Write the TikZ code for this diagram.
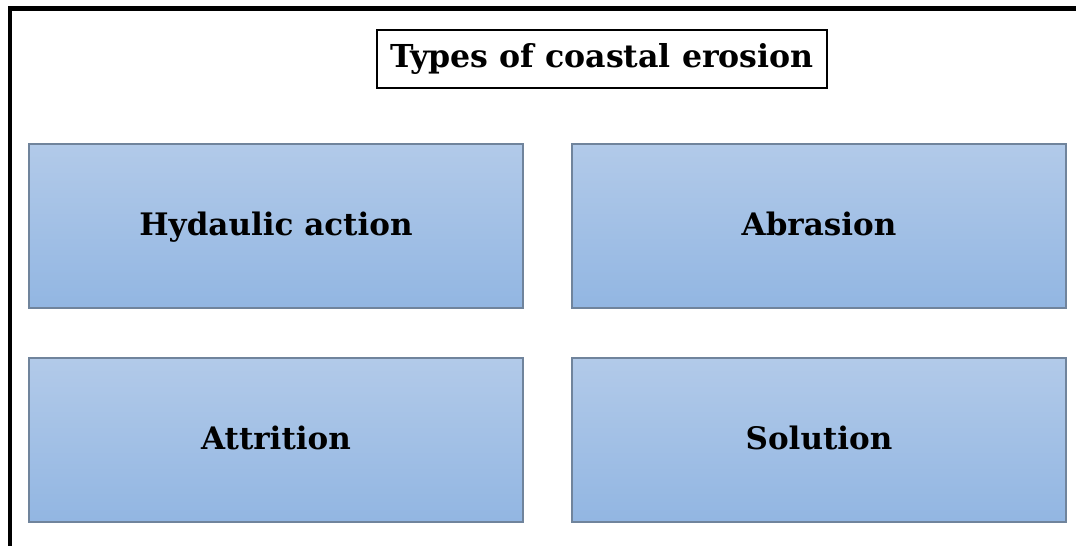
\documentclass[tikz,border=0pt]{standalone}
\usepackage{fontspec}
\setmainfont{DejaVu Serif}
\definecolor{boxtop}{RGB}{178,202,233}
\definecolor{boxbot}{RGB}{146,182,226}
\definecolor{boxline}{RGB}{112,132,156}
\begin{document}
\begin{tikzpicture}[x=1pt,y=-1pt]
	\tikzstyle{rec}=[minimum width=494pt,minimum height=164pt,rectangle,draw=boxline,line width=1.2pt,top color=boxtop,bottom color=boxbot,font=\fontsize{31}{31}\selectfont\bfseries,inner sep=0pt,text height=23pt,text depth=4pt]
	\tikzstyle{head}=[minimum width=450pt,minimum height=58pt,rectangle,draw,line width=1.2pt,font=\fontsize{31.6}{31.6}\selectfont\bfseries,inner sep=0pt]
	\useasboundingbox (0,0) rectangle (1076,546);
	\draw[line width=4.5pt] (10,546) -- (10,8.5) -- (1076,8.5);

	\node[head] (T) at (602,59) {Types of coastal erosion};

	\node[rec] (HA) at (276,226) {Hydaulic action};
	\node[rec] (AB) at (819,226) {Abrasion};
	\node[rec] (AT) at (276,440) {Attrition};
	\node[rec] (SO) at (819,440) {Solution};
\end{tikzpicture}
\end{document}
